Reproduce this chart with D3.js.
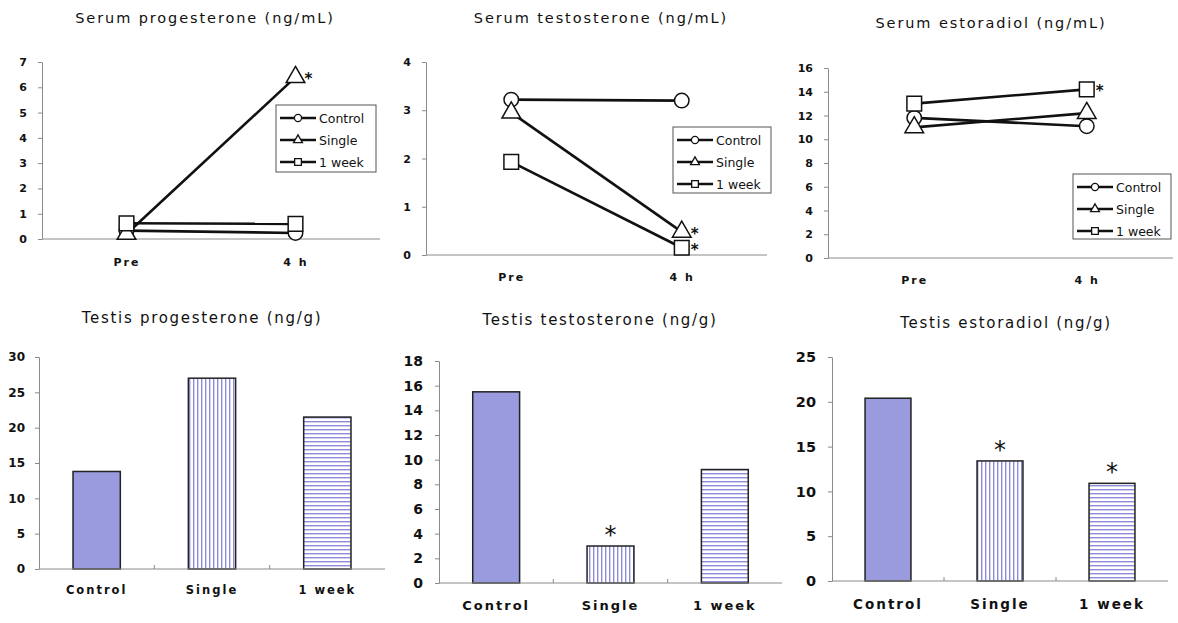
<!DOCTYPE html>
<html>
<head>
<meta charset="utf-8">
<script src="https://cdn.jsdelivr.net/npm/d3@7"></script>
<style>
  body { margin: 0; background: white; }
  text { font-family: "DejaVu Sans", sans-serif; fill: #111; }
</style>
</head>
<body>
<script>
// Chart data
const timepoints = ["Pre", "4 h"];
const groups = ["Control", "Single", "1 week"];

// serum values per group (Control, Single, 1 week), each [Pre, 4 h]
const serumProgesterone = [[0.33, 0.24], [0.2, 6.4], [0.62, 0.6]];
const serumTestosterone = [[3.22, 3.2], [2.95, 0.48], [1.93, 0.15]];
const serumEstradiol = [[11.8, 11.1], [11.0, 12.2], [13.0, 14.2]];

// significant points in serum panels: [group index, timepoint index]
const serumProgesteroneSig = [[1, 1]];
const serumTestosteroneSig = [[1, 1], [2, 1]];
const serumEstradiolSig = [[2, 1]];

// testis values per group
const testisProgesterone = [13.8, 27.0, 21.5];
const testisTestosterone = [15.5, 3.0, 9.2];
const testisEstradiol = [20.4, 13.4, 10.9];

const testisProgesteroneSig = [false, false, false];
const testisTestosteroneSig = [false, true, false];
const testisEstradiolSig = [false, true, true];

const W = 1178, H = 623;
const barBlue = "#9a9ade";
const stripeBlue = "#8c8cd8";
const axisGray = "#8a8a8a";

const svg = d3.select("body").append("svg")
    .attr("width", W)
    .attr("height", H)
    .style("background", "white");

// hatch patterns for the bars
const defs = svg.append("defs");
const vPat = defs.append("pattern").attr("id", "vstripe")
    .attr("patternUnits", "userSpaceOnUse").attr("width", 4).attr("height", 4);
vPat.append("rect").attr("width", 4).attr("height", 4).attr("fill", "white");
vPat.append("rect").attr("x", 1).attr("width", 1.4).attr("height", 4).attr("fill", stripeBlue);
const hPat = defs.append("pattern").attr("id", "hstripe")
    .attr("patternUnits", "userSpaceOnUse").attr("width", 4).attr("height", 4);
hPat.append("rect").attr("width", 4).attr("height", 4).attr("fill", "white");
hPat.append("rect").attr("y", 1).attr("width", 4).attr("height", 1.4).attr("fill", stripeBlue);
const barFills = [barBlue, "url(#vstripe)", "url(#hstripe)"];

const shapes = [d3.symbolCircle, d3.symbolTriangle, d3.symbolSquare];

function styleYAxis(g, fontSize) {
    g.select(".domain").attr("stroke", axisGray);
    g.selectAll(".tick line").attr("stroke", axisGray);
    g.selectAll(".tick text")
        .attr("font-size", fontSize)
        .attr("font-weight", "bold")
        .attr("fill", "#111");
}

function drawLinePanel(cfg) {
    const g = svg.append("g");
    const x = d3.scalePoint().domain(timepoints).range([cfg.left, cfg.right]).padding(0.5);
    const y = d3.scaleLinear().domain([0, cfg.yMax]).range([cfg.bottom, cfg.top]);

    g.append("text")
        .attr("x", cfg.titleX).attr("y", cfg.titleY)
        .attr("text-anchor", "middle")
        .attr("font-size", 14.5)
        .attr("letter-spacing", "1.9px")
        .text(cfg.title);

    const yAxis = g.append("g")
        .attr("transform", `translate(${cfg.left},0)`)
        .call(d3.axisLeft(y).tickValues(d3.range(0, cfg.yMax + 0.01, cfg.yStep))
            .tickFormat(d3.format("d"))
            .tickSize(4).tickSizeOuter(0).tickPadding(11));
    styleYAxis(yAxis, cfg.tickFont);

    const xAxis = g.append("g")
        .attr("transform", `translate(0,${cfg.bottom})`)
        .call(d3.axisBottom(x).tickSize(0).tickSizeOuter(0).tickPadding(cfg.labelPad));
    xAxis.select(".domain").attr("stroke", axisGray).attr("d", `M${cfg.left},0H${cfg.right}`);
    xAxis.selectAll(".tick text")
        .attr("font-size", cfg.tickFont)
        .attr("font-weight", "bold")
        .attr("letter-spacing", "2px")
        .attr("fill", "#111");

    const line = d3.line().x((d, i) => x(timepoints[i])).y(d => y(d));
    g.selectAll(".series").data(cfg.data).join("path")
        .attr("d", d => line(d))
        .attr("fill", "none")
        .attr("stroke", "#111")
        .attr("stroke-width", 2.6);

    cfg.data.forEach((vals, s) => {
        g.selectAll(null).data(vals).join("path")
            .attr("transform", (d, i) => `translate(${x(timepoints[i])},${y(d)})`)
            .attr("d", d3.symbol(shapes[s], [165, 150, 215][s]))
            .attr("fill", "white")
            .attr("stroke", "#111")
            .attr("stroke-width", 1.5);
    });

    cfg.sig.forEach(([s, i]) => {
        g.append("text")
            .attr("x", x(timepoints[i]) + 9)
            .attr("y", y(cfg.data[s][i]) + 7)
            .attr("font-size", 15)
            .attr("font-weight", "bold")
            .text("*");
    });

    // legend
    const lg = g.append("g").attr("transform", `translate(${cfg.legend[0]},${cfg.legend[1]})`);
    lg.append("rect")
        .attr("width", cfg.legend[2]).attr("height", cfg.legend[3])
        .attr("fill", "white").attr("stroke", "#555").attr("stroke-width", 1);
    groups.forEach((name, s) => {
        const ry = 13 + s * 22;
        lg.append("line").attr("x1", 4).attr("x2", 40).attr("y1", ry).attr("y2", ry)
            .attr("stroke", "#111").attr("stroke-width", 2.6);
        lg.append("path")
            .attr("transform", `translate(22,${ry})`)
            .attr("d", d3.symbol(shapes[s], [40, 34, 45][s]))
            .attr("fill", "white").attr("stroke", "#111").attr("stroke-width", 1.3);
        lg.append("text").attr("x", 43).attr("y", ry + 4.5)
            .attr("font-size", 12.5).text(name);
    });
}

function drawBarPanel(cfg) {
    const g = svg.append("g");
    const x = d3.scaleBand().domain(groups).range([cfg.left, cfg.right])
        .paddingInner(0.59).paddingOuter(0.295);
    const y = d3.scaleLinear().domain([0, cfg.yMax]).range([cfg.bottom, cfg.top]);

    g.append("text")
        .attr("x", cfg.titleX).attr("y", cfg.titleY)
        .attr("text-anchor", "middle")
        .attr("font-size", 15)
        .attr("letter-spacing", "1.7px")
        .text(cfg.title);

    const yAxis = g.append("g")
        .attr("transform", `translate(${cfg.left},0)`)
        .call(d3.axisLeft(y).tickValues(d3.range(0, cfg.yMax + 0.01, cfg.yStep))
            .tickFormat(d3.format("d"))
            .tickSize(4).tickSizeOuter(0).tickPadding(cfg.yPad));
    styleYAxis(yAxis, cfg.tickFont);

    g.selectAll(".bar").data(cfg.data).join("rect")
        .attr("x", (d, i) => x(groups[i]))
        .attr("y", d => y(d))
        .attr("width", x.bandwidth())
        .attr("height", d => cfg.bottom - y(d))
        .attr("fill", (d, i) => barFills[i])
        .attr("stroke", "#222")
        .attr("stroke-width", 1.5);

    const xAxis = g.append("g")
        .attr("transform", `translate(0,${cfg.bottom})`)
        .call(d3.axisBottom(x).tickSize(0).tickSizeOuter(0).tickPadding(cfg.labelPad));
    xAxis.select(".domain").attr("stroke", axisGray).attr("d", `M${cfg.left},0H${cfg.right}`);
    xAxis.selectAll(".tick text")
        .attr("font-size", cfg.catFont)
        .attr("font-weight", "bold")
        .attr("letter-spacing", "2px")
        .attr("fill", "#111");
    // small category divider ticks
    xAxis.selectAll(".divider").data([1, 2]).join("line")
        .attr("x1", k => cfg.left + k * x.step()).attr("x2", k => cfg.left + k * x.step())
        .attr("y1", 0).attr("y2", -4)
        .attr("stroke", axisGray);

    cfg.data.forEach((v, i) => {
        if (!cfg.sig[i]) return;
        g.append("text")
            .attr("x", x(groups[i]) + x.bandwidth() / 2)
            .attr("y", y(v) - 3)
            .attr("text-anchor", "middle")
            .attr("font-size", 24)
            .text("*");
    });
}

drawLinePanel({
    title: "Serum progesterone (ng/mL)", data: serumProgesterone, sig: serumProgesteroneSig,
    yMax: 7, yStep: 1, left: 42, right: 380, top: 62, bottom: 239,
    titleX: 205, titleY: 23, tickFont: 11, labelPad: 19, legend: [276, 105, 100, 67]
});
drawLinePanel({
    title: "Serum testosterone (ng/mL)", data: serumTestosterone, sig: serumTestosteroneSig,
    yMax: 4, yStep: 1, left: 426, right: 767, top: 62, bottom: 255,
    titleX: 601, titleY: 23, tickFont: 11, labelPad: 18, legend: [673, 127, 98, 66]
});
drawLinePanel({
    title: "Serum estoradiol (ng/mL)", data: serumEstradiol, sig: serumEstradiolSig,
    yMax: 16, yStep: 2, left: 828, right: 1173, top: 68, bottom: 258,
    titleX: 991, titleY: 28, tickFont: 11, labelPad: 18, legend: [1073, 174, 98, 65]
});

drawBarPanel({
    title: "Testis progesterone (ng/g)", data: testisProgesterone, sig: testisProgesteroneSig,
    yMax: 30, yStep: 5, left: 39, right: 385, top: 357, bottom: 569,
    titleX: 202, titleY: 323, tickFont: 12, catFont: 11.5, yPad: 10, labelPad: 17
});
drawBarPanel({
    title: "Testis testosterone (ng/g)", data: testisTestosterone, sig: testisTestosteroneSig,
    yMax: 18, yStep: 2, left: 439, right: 782, top: 361, bottom: 583,
    titleX: 600, titleY: 325, tickFont: 14, catFont: 13, yPad: 12, labelPad: 18
});
drawBarPanel({
    title: "Testis estoradiol (ng/g)", data: testisEstradiol, sig: testisEstradiolSig,
    yMax: 25, yStep: 5, left: 832, right: 1168, top: 357, bottom: 581,
    titleX: 1006, titleY: 328, tickFont: 14.5, catFont: 13.5, yPad: 12, labelPad: 18
});
</script>
</body>
</html>
